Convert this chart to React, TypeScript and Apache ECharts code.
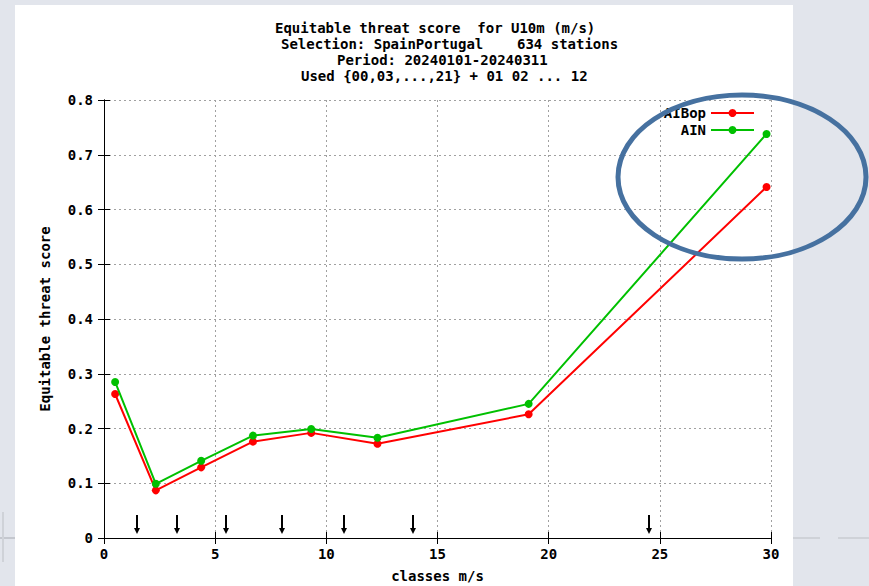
import React, { useEffect, useRef } from "react";
import * as echarts from "echarts";

const titleLines = [
  "Equitable threat score  for U10m (m/s)",
  "Selection: SpainPortugal    634 stations",
  "Period: 20240101-20240311",
  "Used {00,03,...,21} + 01 02 ... 12",
];
const titleLeft = [275, 281, 337, 301];
const seriesNames = ["AIBop", "AIN"];
const classX = [0.5, 2.33, 4.37, 6.7, 9.32, 12.3, 19.1, 29.8];
const redValues = [0.263, 0.087, 0.129, 0.176, 0.192, 0.172, 0.226, 0.641];
const greenValues = [0.285, 0.099, 0.141, 0.187, 0.199, 0.183, 0.245, 0.738];
const arrowX = [1.5, 3.3, 5.5, 8.0, 10.8, 13.9, 24.5];
const arrowTop = 0.042;
const xTicks = [0, 5, 10, 15, 20, 25, 30];
const yTicks = [0, 0.1, 0.2, 0.3, 0.4, 0.5, 0.6, 0.7, 0.8];

const FONT = "'DejaVu Sans Mono', 'Liberation Mono', monospace";

export default function App() {
  const ref = useRef<HTMLDivElement>(null);
  useEffect(() => {
    if (!ref.current) return;
    const chart = echarts.init(ref.current, null, { renderer: "svg" });
    const txt = { fontFamily: FONT, fontWeight: "bold" as const, fontSize: 14, color: "#000" };
    const gridStyle = { show: true, lineStyle: { color: "#a0a0a0", type: [2, 3] as any, width: 1 } };
    const option: any = {
      animation: false,
      backgroundColor: "#e2e5ec",
      grid: { left: 104, right: 98, top: 100, bottom: 48, containLabel: false, outerBoundsMode: "none" },
      legend: {
        data: seriesNames,
        orient: "vertical",
        align: "right",
        right: 109,
        top: 101,
        itemWidth: 43,
        itemHeight: 10,
        itemGap: 3,
        textStyle: { ...txt, lineHeight: 14 },
        selectedMode: false,
      },
      xAxis: [
        {
          type: "value",
          min: 0,
          max: 30,
          interval: 5,
          name: "classes m/s",
          nameLocation: "middle",
          nameGap: 31,
          nameTextStyle: txt,
          axisLine: { show: true, lineStyle: { color: "#000", width: 1 } },
          axisTick: { show: true, inside: true, length: 6, lineStyle: { color: "#000" } },
          axisLabel: { ...txt, margin: 9, formatter: (v: number) => (xTicks.includes(v) ? String(v) : "") },
          splitLine: gridStyle,
        },
        {
          type: "value",
          position: "top",
          min: 0,
          max: 30,
          interval: 5,
          axisLine: { show: true, lineStyle: { color: "#000", width: 1 } },
          axisTick: { show: true, inside: true, length: 6, lineStyle: { color: "#000" } },
          axisLabel: { show: false },
          splitLine: { show: false },
        },
      ],
      yAxis: [
        {
          type: "value",
          min: 0,
          max: 0.8,
          interval: 0.1,
          name: "Equitable threat score",
          nameLocation: "middle",
          nameGap: 52,
          nameRotate: 90,
          nameTextStyle: txt,
          axisLine: { show: true, lineStyle: { color: "#000", width: 1 } },
          axisTick: { show: true, inside: true, length: 6, lineStyle: { color: "#000" } },
          axisLabel: {
            ...txt,
            margin: 11,
            formatter: (v: number) => {
              const r = Math.round(v * 10) / 10;
              return yTicks.includes(r) ? (r === 0 ? "0" : r.toFixed(1)) : "";
            },
          },
          splitLine: gridStyle,
        },
        {
          type: "value",
          position: "right",
          min: 0,
          max: 0.8,
          interval: 0.1,
          axisLine: { show: true, lineStyle: { color: "#000", width: 1 } },
          axisTick: { show: true, inside: true, length: 6, lineStyle: { color: "#000" } },
          axisLabel: { show: false },
          splitLine: { show: false },
        },
      ],
      graphic: [
        { type: "rect", z: -10, silent: true, shape: { x: 15, y: 5, width: 778, height: 581 }, style: { fill: "#ffffff" } },
        { type: "line", z: -10, silent: true, shape: { x1: 0, y1: 538, x2: 15, y2: 538 }, style: { stroke: "#c4c7ce", lineWidth: 2 } },
        { type: "line", z: -10, silent: true, shape: { x1: 3, y1: 512, x2: 3, y2: 562 }, style: { stroke: "#cfd2d8", lineWidth: 2 } },
        { type: "line", z: -10, silent: true, shape: { x1: 793, y1: 538, x2: 820, y2: 538 }, style: { stroke: "#cfd2d8", lineWidth: 2 } },
        { type: "line", z: -10, silent: true, shape: { x1: 838, y1: 538, x2: 869, y2: 538 }, style: { stroke: "#cfd2d8", lineWidth: 2 } },
        ...titleLines.map((t, i) => ({
          type: "text",
          x: titleLeft[i],
          y: 28 + i * 16,
          style: {
            text: t,
            fontFamily: FONT,
            fontWeight: "bold",
            fontSize: 14,
            fill: "#000",
            textAlign: "left",
            textVerticalAlign: "middle",
          },
        })),
        {
          type: "ellipse",
          z: 100,
          silent: true,
          shape: { cx: 742, cy: 177, rx: 124, ry: 82 },
          style: { fill: "none", stroke: "#4671a0", lineWidth: 5 },
        },
      ],
      series: [
        {
          name: seriesNames[0],
          type: "line",
          data: classX.map((x, i) => [x, redValues[i]]),
          symbol: "circle",
          symbolSize: 8,
          itemStyle: { color: "#ff0000" },
          lineStyle: { color: "#ff0000", width: 2 },
          z: 3,
        },
        {
          name: seriesNames[1],
          type: "line",
          data: classX.map((x, i) => [x, greenValues[i]]),
          symbol: "circle",
          symbolSize: 8,
          itemStyle: { color: "#00c000" },
          lineStyle: { color: "#00c000", width: 2 },
          z: 4,
        },
        {
          name: "arrows",
          type: "custom",
          data: arrowX.map((x) => [x, arrowTop]),
          renderItem: (_p: any, api: any) => {
            const top = api.coord([api.value(0), api.value(1)]);
            const base = api.coord([api.value(0), 0]);
            const x = Math.round(top[0]);
            const tip = base[1] - 4;
            return {
              type: "group",
              children: [
                { type: "line", shape: { x1: x, y1: top[1], x2: x, y2: tip - 4 }, style: { stroke: "#000", lineWidth: 2 } },
                {
                  type: "polygon",
                  shape: { points: [[x - 3, tip - 6], [x + 3, tip - 6], [x, tip]] },
                  style: { fill: "#000" },
                },
              ],
            };
          },
          z: 5,
        },
      ],
    };
    chart.setOption(option);
    return () => chart.dispose();
  }, []);
  return (
    <div
      ref={ref}
      style={{ position: "fixed", left: 0, top: 0, width: 869, height: 586 }}
    />
  );
}
